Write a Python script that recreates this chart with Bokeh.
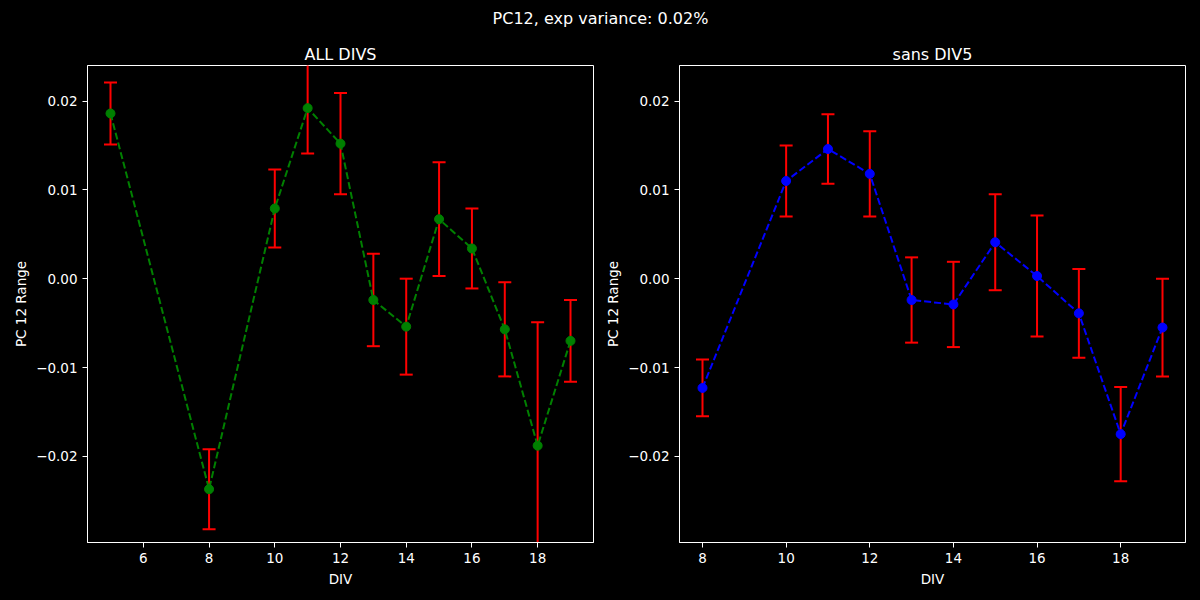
from bokeh.plotting import figure
from bokeh.layouts import column, row
from bokeh.models import FixedTicker, CustomJSTickFormatter, ColumnDataSource, Range1d
from bokeh.core.properties import value
from bokeh.embed import file_html
from bokeh.resources import INLINE

SUPTITLE = "PC12, exp variance: 0.02%"

# Left panel: ALL DIVS
all_div = [5, 8, 10, 11, 12, 13, 14, 15, 16, 17, 18, 19]
all_val = [0.0186, -0.0237, 0.0079, 0.0192, 0.0152, -0.0024, -0.0054, 0.0067, 0.0034, -0.0057, -0.0188, -0.0070]
all_err = [0.0035, 0.0045, 0.0044, 0.0051, 0.0057, 0.0052, 0.0054, 0.0064, 0.0045, 0.0053, 0.0139, 0.0046]

# Right panel: sans DIV5
sans_div = [8, 10, 11, 12, 13, 14, 15, 16, 17, 18, 19]
sans_val = [-0.0123, 0.0110, 0.0146, 0.0118, -0.0024, -0.0029, 0.0041, 0.0003, -0.0039, -0.0175, -0.0055]
sans_err = [0.0032, 0.0040, 0.0039, 0.0048, 0.0048, 0.0048, 0.0054, 0.0068, 0.0050, 0.0053, 0.0055]

y_ticks = [-0.02, -0.01, 0.0, 0.01, 0.02]
x_ticks_left = [6, 8, 10, 12, 14, 16, 18]
x_ticks_right = [8, 10, 12, 14, 16, 18]

FONT = "DejaVu Sans"
BG = "black"
FG = "white"

fmt = CustomJSTickFormatter(code="""
const s = Math.abs(tick).toFixed(2);
return (tick < -1e-12 ? "\\u2212" : "") + s;
""")


def make_panel(title, xs, ys, errs, color, xticks, width, left, right):
    p = figure(width=width, height=560, output_backend="svg", toolbar_location=None,
               x_range=Range1d(min(xs) - 0.05 * (max(xs) - min(xs)), max(xs) + 0.05 * (max(xs) - min(xs))),
               y_range=Range1d(-0.0297, 0.0240),
               min_border_left=left, min_border_right=right, min_border_top=25, min_border_bottom=58)
    p.background_fill_color = BG
    p.border_fill_color = BG
    p.outline_line_color = FG
    p.outline_line_width = 1
    p.grid.visible = False

    p.title.text = title
    p.title.align = "center"
    p.title.text_color = FG
    p.title.text_font = FONT
    p.title.text_font_size = "16px"
    p.title.text_font_style = "normal"
    p.title.standoff = 4

    for ax in (p.xaxis[0], p.yaxis[0]):
        ax.axis_line_color = FG
        ax.major_tick_line_color = FG
        ax.minor_tick_line_color = None
        ax.major_tick_out = 5
        ax.major_tick_in = 0
        ax.major_label_text_color = FG
        ax.major_label_text_font = FONT
        ax.major_label_text_font_size = "13.5px"
        ax.axis_label_text_color = FG
        ax.axis_label_text_font = FONT
        ax.axis_label_text_font_size = "13.5px"
        ax.axis_label_text_font_style = "normal"
    p.xaxis.ticker = FixedTicker(ticks=xticks)
    p.yaxis.ticker = FixedTicker(ticks=y_ticks)
    p.yaxis.formatter = fmt
    p.xaxis.axis_label = "DIV"
    p.yaxis.axis_label = "PC 12 Range"
    p.yaxis.axis_label_standoff = 4
    p.xaxis.axis_label_standoff = 5

    src = ColumnDataSource(dict(
        x=xs, y=ys,
        lo=[v - e for v, e in zip(ys, errs)],
        hi=[v + e for v, e in zip(ys, errs)],
    ))
    p.segment(x0="x", y0="lo", x1="x", y1="hi", source=src, line_color="red", line_width=2)
    p.scatter(x="x", y="lo", source=src, marker="dash", size=13, line_color="red", line_width=2)
    p.scatter(x="x", y="hi", source=src, marker="dash", size=13, line_color="red", line_width=2)
    p.line(x="x", y="y", source=src, line_color=color, line_width=2, line_dash="7 3")
    p.scatter(x="x", y="y", source=src, marker="circle", size=9, fill_color=color, line_color=color)
    return p


top = figure(width=1200, height=40, output_backend="svg", toolbar_location=None,
             x_range=Range1d(0, 1200), y_range=Range1d(0, 40),
             min_border=0)
top.axis.visible = False
top.grid.visible = False
top.outline_line_color = None
top.background_fill_color = BG
top.border_fill_color = BG
top.text(x=[600], y=[22], text=[SUPTITLE], text_color=FG, text_align="center",
         text_baseline="middle", text_font=value(FONT), text_font_size="16px")

p1 = make_panel("ALL DIVS", all_div, all_val, all_err, "green", x_ticks_left, 600, 87, 7)
p2 = make_panel("sans DIV5", sans_div, sans_val, sans_err, "blue", x_ticks_right, 600, 79, 15)

layout = column(top, row(p1, p2, styles={"background-color": "black"}),
                styles={"background-color": "black"})
open("out.html", "w").write(file_html(layout, INLINE))
